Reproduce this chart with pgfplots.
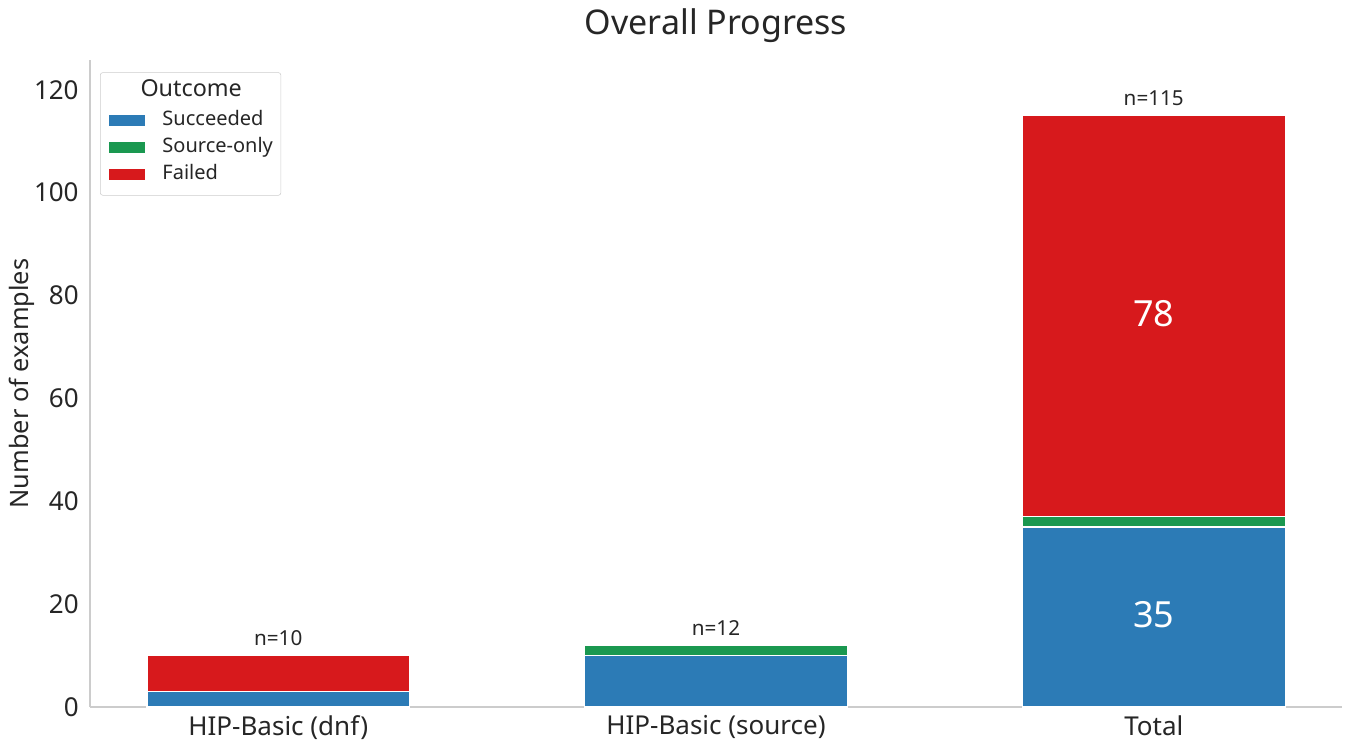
\documentclass[border=0pt]{standalone}
\usepackage{pgfplots}
\pgfplotsset{compat=1.18}
\usepackage{fontspec}
\setmainfont{Noto Sans}
\definecolor{cblue}{HTML}{2C7BB6}
\definecolor{cgreen}{HTML}{1A9850}
\definecolor{cred}{HTML}{D7191C}
\definecolor{spine}{HTML}{CCCCCC}
\definecolor{txt}{HTML}{262626}
\newlength\srcw
\settowidth\srcw{\fontsize{15}{18}\selectfont Source-only}
\begin{document}
\begin{tikzpicture}
\path[use as bounding box] (0,0) rectangle (1014.75pt,564.75pt);
\begin{axis}[
  at={(67.5pt,34.5pt)}, anchor=south west,
  scale only axis, width=939pt, height=485.25pt,
  ybar stacked, bar width=0.6,
  xmin=-0.43, xmax=2.43, ymin=0, ymax=125.8,
  xtick={0,1,2}, xticklabels={HIP-Basic (dnf),HIP-Basic (source),Total},
  ytick={0,20,...,120},
  major tick length=0pt,
  axis x line*=bottom, axis y line*=left,
  axis line style={spine, line width=0.9pt, -},
  /pgf/number format/assume math mode=true,
  tick label style={font=\fontsize{19.5}{22}\selectfont, text=txt},
  xticklabel style={yshift=-3pt},
  yticklabel style={xshift=-5pt},
  ylabel={Number of examples},
  ylabel style={font=\fontsize{19}{22}\selectfont, text=txt, yshift=-7.25pt},
  title={Overall Progress},
  title style={font=\fontsize{25.5}{28}\selectfont, text=txt, yshift=3.5pt},
  legend style={at={(0.008,0.981)}, anchor=north west, draw=spine, rounded corners=2pt,
    font=\fontsize{15}{18}\selectfont, text=txt, row sep=5.7pt, inner xsep=6pt, inner ysep=8.5pt,
    nodes={inner sep=0pt, text height=11pt, text depth=3.5pt}},
  legend cell align=left,
  legend image code/.code={\path (0pt,0pt) -- (39.75pt,0pt);\fill[#1, sharp corners] (0pt,-4.7pt) rectangle (27.75pt,4.7pt);},
  every axis plot/.append style={draw=white, line width=0.9pt},
  clip=false,
]
\addlegendimage{empty legend}
\addlegendentry{\hspace*{-39.75pt}\makebox[\dimexpr\srcw+39.75pt\relax][c]{\raisebox{1.3pt}{\fontsize{17.5}{18}\selectfont Outcome}}}
\addplot[fill=cblue, draw=white] coordinates {(0,3) (1,10) (2,35)};
\addlegendentry{Succeeded}
\addplot[fill=cgreen, draw=white] coordinates {(0,0) (1,2) (2,2)};
\addlegendentry{Source-only}
\addplot[fill=cred, draw=white] coordinates {(0,7) (1,0) (2,78)};
\addlegendentry{Failed}
\coordinate (n0) at (axis cs:0,10);
\coordinate (n1) at (axis cs:1,12);
\coordinate (n2) at (axis cs:2,115);
\coordinate (v35) at (axis cs:2,17.5);
\coordinate (v78) at (axis cs:2,76);
\end{axis}
\node[above, font=\fontsize{15.5}{18}\selectfont, text=txt, yshift=3.5pt] at (n0) {n=10};
\node[above, font=\fontsize{15.5}{18}\selectfont, text=txt, yshift=3.5pt] at (n1) {n=12};
\node[above, font=\fontsize{15.5}{18}\selectfont, text=txt, yshift=3.5pt] at (n2) {n=115};
\node[font=\fontsize{27}{30}\selectfont, text=white, yshift=1.5pt] at (v35) {35};
\node[font=\fontsize{27}{30}\selectfont, text=white, yshift=1.5pt] at (v78) {78};
\end{tikzpicture}
\end{document}
